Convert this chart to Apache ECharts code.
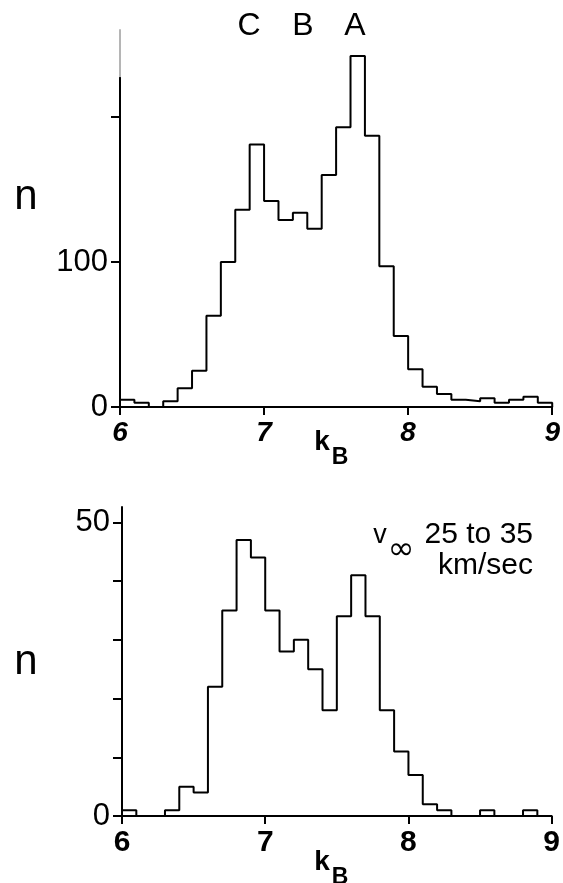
<!DOCTYPE html>
<html>
<head>
<meta charset="utf-8">
<script src="https://cdn.jsdelivr.net/npm/echarts@6/dist/echarts.min.js"></script>
<style>
  html, body { margin: 0; padding: 0; background: #fff; }
  #chart { width: 563px; height: 883px; }
</style>
</head>
<body>
<div id="chart"></div>
<script>
// Histogram bins of k_B, width 0.1, listed by their lower edge
const binStarts = [6.0, 6.1, 6.2, 6.3, 6.4, 6.5, 6.6, 6.7, 6.8, 6.9,
                   7.0, 7.1, 7.2, 7.3, 7.4, 7.5, 7.6, 7.7, 7.8, 7.9,
                   8.0, 8.1, 8.2, 8.3, 8.4, 8.5, 8.6, 8.7, 8.8, 8.9];
const binEnd = 9.0;

// All objects
const countsAll = [5, 3, 0, 4, 13, 25, 63, 100, 136, 181,
                   142, 129, 134, 123, 160, 193, 242, 187, 97, 49,
                   26, 14, 9, 5, 4, 6, 3, 5, 7, 3];

// Objects with v_inf between 25 and 35 km/sec
const countsSlow = [1, 0, 0, 1, 5, 4, 22, 35, 47, 44,
                    35, 28, 30, 25, 18, 34, 41, 34, 18, 11,
                    7, 2, 1, 0, 0, 1, 0, 0, 1, 0];

const xTicks = [6, 7, 8, 9];
const topYTicks = [0, 100, 200];
const topYLabels = [0, 100];
const bottomYTicks = [0, 10, 20, 30, 40, 50];
const bottomYLabels = [0, 50];
const peakLabels = ['C', 'B', 'A'];

// Step outline of a histogram: drops to zero at both outer edges
function stepOutline(counts) {
  const pts = [[binStarts[0], 0]];
  for (let i = 0; i < counts.length; i++) pts.push([binStarts[i], counts[i]]);
  pts.push([binEnd, counts[counts.length - 1]]);
  pts.push([binEnd, 0]);
  return pts;
}

const FONT = 'Liberation Sans';
const chart = echarts.init(document.getElementById('chart'), null, { renderer: 'canvas' });

const axisLineBlack = { show: true, onZero: false, lineStyle: { color: '#000', width: 2 } };

// upper part of the top panel's n axis is printed faint
const topYAxisColor = new echarts.graphic.LinearGradient(0, 0, 0, 1, [
  { offset: 0, color: '#b5b5b5' },
  { offset: 0.13, color: '#b5b5b5' },
  { offset: 0.131, color: '#000' },
  { offset: 1, color: '#000' }
]);

function xAxisCfg(gridIndex, italic) {
  return {
    type: 'value', gridIndex, min: 6, max: 9, interval: 1,
    axisLine: axisLineBlack,
    axisTick: { show: true, inside: false, length: 8, lineStyle: { color: '#000', width: 2 } },
    axisLabel: {
      show: true, margin: 12, color: '#000',
      fontFamily: FONT, fontSize: italic ? 28 : 30,
      fontStyle: italic ? 'italic' : 'normal', fontWeight: 'bold',
      customValues: xTicks
    },
    splitLine: { show: false }
  };
}

function yAxisCfg(gridIndex, max, ticks, labels, lineColor) {
  return {
    type: 'value', gridIndex, min: 0, max,
    axisLine: { show: true, onZero: false, lineStyle: { color: lineColor, width: 2 } },
    axisTick: { show: true, inside: false, length: 9, customValues: ticks, lineStyle: { color: '#000', width: 2 } },
    axisLabel: { show: true, margin: 12, color: '#000', fontFamily: FONT, fontSize: 31, customValues: labels },
    splitLine: { show: false }
  };
}

function histSeries(idx, counts) {
  return {
    type: 'line', xAxisIndex: idx, yAxisIndex: idx,
    data: stepOutline(counts), step: 'end',
    showSymbol: false, symbol: 'none',
    lineStyle: { color: '#000', width: 2 },
    z: 3
  };
}

function txt(text, x, y, font, align) {
  return {
    type: 'text', x, y, silent: true,
    style: {
      text, fill: '#000', font,
      textAlign: align || 'center', textVerticalAlign: 'middle'
    }
  };
}

const peakX = [249, 303, 355];
const f = (size, weight, family) => (weight ? weight + ' ' : '') + size + 'px "' + (family || FONT) + '"';

chart.setOption({
  animation: false,
  backgroundColor: '#fff',
  grid: [
    { left: 120, right: 8, top: 30, bottom: 476 },
    { left: 122, right: 9, top: 507, bottom: 67 }
  ],
  xAxis: [xAxisCfg(0, true), xAxisCfg(1, false)],
  yAxis: [
    yAxisCfg(0, 260, topYTicks, topYLabels, topYAxisColor),
    yAxisCfg(1, 52.6, bottomYTicks, bottomYLabels, '#000')
  ],
  series: [histSeries(0, countsAll), histSeries(1, countsSlow)],
  graphic: [
    txt(peakLabels[0], peakX[0], 26, f(32)),
    txt(peakLabels[1], peakX[1], 26, f(32)),
    txt(peakLabels[2], peakX[2], 26, f(32)),
    txt('n', 26, 197, f(42)),
    txt('n', 26, 662, f(42)),
    // axis titles k_B
    txt('k', 322, 442, f(28, 'bold')),
    txt('B', 340, 458, f(23, 'bold')),
    txt('k', 322, 862, f(28, 'bold')),
    txt('B', 340, 878, f(23, 'bold')),
    // velocity range note
    txt('v', 380, 536, f(27)),
    txt('\u221E', 401, 551, f(32, null, 'DejaVu Sans')),
    txt('25 to 35', 533, 535, f(30), 'right'),
    txt('km/sec', 533, 566, f(30), 'right')
  ]
});
</script>
</body>
</html>
